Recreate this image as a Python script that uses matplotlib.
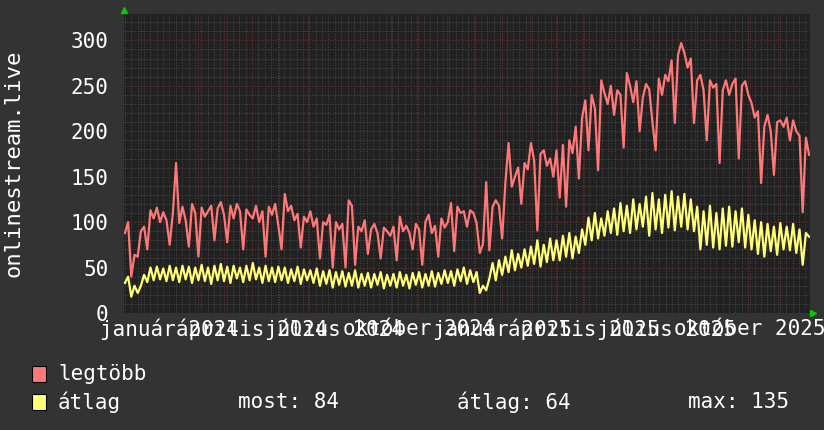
import pandas as pd
import matplotlib
matplotlib.use('Agg')
import matplotlib.pyplot as plt
import matplotlib.dates as mdates
from matplotlib.ticker import MultipleLocator, FuncFormatter
from matplotlib.patches import Rectangle

# --- data (~3.5 day steps) ---
start = '2023-11-13'
end = '2025-12-05'

legtobb = [
    88, 100, 40, 64, 62,                                   # nov 2023
    90, 95, 70, 113, 104, 116, 100, 111, 102,              # dec
    75, 110, 165, 99, 117, 102, 73, 120, 110,              # jan 2024
    62, 116, 106, 112, 118, 80, 115, 122,                  # feb
    108, 78, 118, 104, 120, 112, 70, 114, 108,             # mar
    104, 118, 100, 112, 62, 117, 108, 120, 96,             # apr
    70, 131, 112, 118, 102, 109, 72, 106, 100,             # may
    112, 95, 104, 60, 100, 97, 108, 50,                    # jun
    100, 92, 98, 50, 124, 118, 53, 95, 90,                 # jul
    102, 65, 92, 98, 88, 60, 94, 90, 85,                   # aug
    95, 58, 106, 90, 96, 88, 70, 98,                       # sep
    92, 53, 100, 108, 88, 96, 62, 104, 94,                 # oct
    100, 121, 68, 117, 110, 112, 95, 113,                  # nov
    110, 99, 66, 76, 144, 69, 117, 124, 118,               # dec
    82, 143, 187, 139, 150, 160, 120, 165, 158,            # jan 2025
    187, 168, 91, 175, 179, 162, 170, 150,                 # feb
    179, 127, 185, 117, 190, 176, 205, 148, 215,           # mar
    234, 179, 240, 225, 157, 256, 242, 230, 250,           # apr
    218, 245, 240, 182, 264, 250, 232, 255, 200,           # may
    237, 252, 246, 210, 179, 258, 240, 262,                # jun
    255, 278, 209, 284, 297, 286, 270, 280, 209,           # jul
    256, 262, 245, 190, 256, 248, 252, 165, 245,           # aug
    256, 240, 252, 258, 170, 250, 255, 240,                # sep
    231, 215, 222, 143, 205, 218, 200, 152, 210,           # oct
    212, 205, 215, 190, 212, 200, 195, 111,                # nov
    193, 174,                                              # dec
]

atlag = [
    33, 40, 18, 30, 22,
    30, 42, 34, 50, 36, 51, 37, 49, 35,
    52, 36, 50, 34, 52, 37, 51, 33, 50,
    36, 53, 35, 50, 32, 52, 36, 54,
    35, 51, 33, 52, 38, 50, 34, 52, 36,
    55, 37, 50, 33, 52, 35, 50, 34, 51,
    36, 50, 33, 48, 35, 51, 32, 48, 36,
    47, 33, 49, 30, 46, 32, 47, 28,
    45, 31, 46, 29, 44, 30, 47, 28, 43,
    30, 44, 28, 43, 31, 45, 27, 42, 30,
    43, 28, 45, 30, 42, 27, 44, 31,
    45, 28, 43, 30, 46, 29, 44, 32, 47,
    33, 46, 30, 48, 35, 50, 32, 47,
    34, 45, 22, 30, 25, 38, 55, 36, 58,
    42, 62, 45, 69, 47, 65, 50, 70, 52,
    73, 54, 80, 51, 75, 56, 82, 58,
    80, 58, 85, 62, 88, 60, 84, 66, 92,
    75, 105, 80, 110, 82, 104, 85, 112, 88,
    115, 86, 121, 90, 118, 88, 125, 92, 120,
    95, 128, 85, 132, 92, 125, 88, 130,
    94, 134, 91, 128, 95, 131, 92, 125, 90,
    117, 70, 112, 75, 118, 72, 110, 70, 115,
    74, 117, 73, 112, 78, 115, 72, 108,
    70, 102, 65, 100, 62, 98, 68, 95, 64,
    99, 70, 95, 69, 98, 66, 92, 53,
    88, 84,
]

honapok = ['január', 'február', 'március', 'április', 'május', 'június',
           'július', 'augusztus', 'szeptember', 'október', 'november', 'december']
label_months = [1, 4, 7, 10]
series_names = ['legtöbb', 'átlag']
stats = ['most: 84', 'átlag: 64', 'max: 135']
y_label = 'onlinestream.live'

dates = pd.date_range(start, end, periods=len(legtobb))

bg = '#333333'
plot_bg = '#212121'
red = '#ff7878'
yellow = '#ffff78'

plt.rcParams['font.family'] = 'DejaVu Sans Mono'
plt.rcParams['font.size'] = 15

fig = plt.figure(figsize=(8.24, 4.30), dpi=100, facecolor=bg)
W, H = 824, 430
ax = fig.add_axes([124 / W, 1 - 313 / H, 686 / W, 299 / H], facecolor=plot_bg)

ax.plot(dates, legtobb, color=red, linewidth=1.6, zorder=3)
ax.plot(dates, atlag, color=yellow, linewidth=1.6, zorder=3)

ax.set_xlim(pd.Timestamp('2023-11-12'), pd.Timestamp('2025-12-06'))
ax.set_ylim(0, 329)

ax.yaxis.set_major_locator(MultipleLocator(50))
ax.yaxis.set_minor_locator(MultipleLocator(10))
ax.xaxis.set_major_locator(mdates.MonthLocator())
ax.xaxis.set_minor_locator(mdates.WeekdayLocator(byweekday=mdates.MO))


def fmt(x, pos):
    d = mdates.num2date(x)
    if d.month in label_months:
        return f'{honapok[d.month - 1]} {d.year}'
    return ''


ax.xaxis.set_major_formatter(FuncFormatter(fmt))

ax.grid(which='minor', color='#474747', linestyle=(0, (1, 1.5)), linewidth=0.75)
ax.grid(which='major', color='#6a2f2f', linestyle=(0, (1, 1.5)), linewidth=0.75)
ax.set_axisbelow(True)

ax.tick_params(which='both', length=0, colors='white')
ax.tick_params(axis='y', pad=11)
ax.tick_params(axis='x', pad=4)
for s in ax.spines.values():
    s.set_visible(False)

ax.set_ylabel(y_label, color='white', labelpad=34, fontsize=16)

# green axis arrows
ax.plot([0], [1.014], marker='^', color='#00cc00', markersize=5,
        transform=ax.transAxes, clip_on=False)
ax.plot([1.004], [0], marker='>', color='#00cc00', markersize=5,
        transform=ax.transAxes, clip_on=False)

# legend
for i, (name, col) in enumerate(zip(series_names, [red, yellow])):
    yc = 374 + i * 28
    fig.patches.append(Rectangle((32 / W, 1 - (yc + 8) / H), 14 / W, 16 / H,
                                 facecolor=col, edgecolor='black', linewidth=0.8,
                                 transform=fig.transFigure))
    fig.text(58 / W, 1 - yc / H, name, color='white', va='center', ha='left')

for x, s in zip([238, 457, 688], stats):
    fig.text(x / W, 1 - 402 / H, s, color='white', va='center', ha='left')

fig.savefig('out.png', dpi=100, facecolor=fig.get_facecolor())
